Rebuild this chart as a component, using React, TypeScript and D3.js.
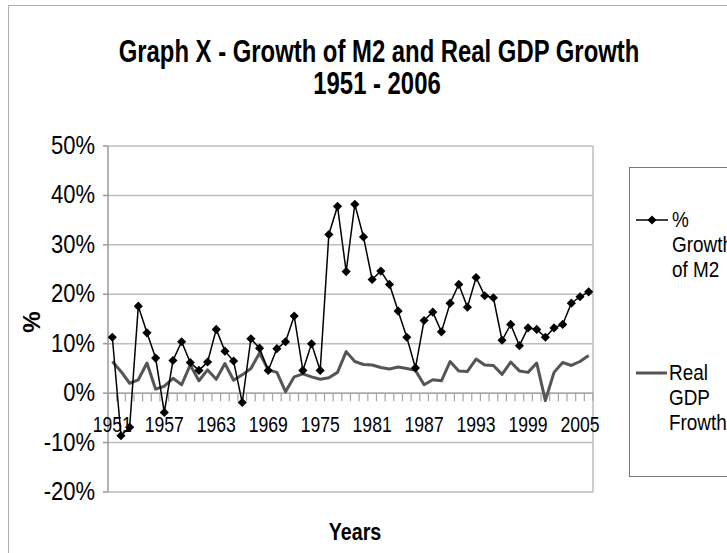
import React from "react";
import * as d3 from "d3";

const years: number[] = [
  1951, 1952, 1953, 1954, 1955, 1956, 1957, 1958, 1959, 1960,
  1961, 1962, 1963, 1964, 1965, 1966, 1967, 1968, 1969, 1970,
  1971, 1972, 1973, 1974, 1975, 1976, 1977, 1978, 1979, 1980,
  1981, 1982, 1983, 1984, 1985, 1986, 1987, 1988, 1989, 1990,
  1991, 1992, 1993, 1994, 1995, 1996, 1997, 1998, 1999, 2000,
  2001, 2002, 2003, 2004, 2005, 2006,
];

const m2Growth: number[] = [
  11.3, -8.6, -6.9, 17.6, 12.2, 7.1, -3.9, 6.6, 10.4, 6.2,
  4.6, 6.3, 12.9, 8.5, 6.5, -1.9, 11.0, 9.1, 4.6, 9.0,
  10.4, 15.6, 4.6, 10.0, 4.6, 32.1, 37.8, 24.6, 38.2, 31.6,
  23.0, 24.7, 22.0, 16.6, 11.3, 5.1, 14.7, 16.4, 12.4, 18.2,
  22.0, 17.4, 23.4, 19.7, 19.3, 10.7, 13.9, 9.6, 13.2, 12.9,
  11.3, 13.2, 13.9, 18.2, 19.5, 20.5,
];

const gdpGrowth: number[] = [
  6.4, 4.4, 2.0, 2.7, 6.1, 0.8, 1.4, 3.0, 1.7, 5.7,
  2.5, 4.7, 2.8, 6.0, 2.6, 3.7, 5.0, 8.1, 4.7, 4.2,
  0.3, 3.3, 3.9, 3.3, 2.8, 3.1, 4.2, 8.4, 6.4, 5.8,
  5.7, 5.2, 4.9, 5.3, 5.0, 4.6, 1.7, 2.7, 2.5, 6.4,
  4.5, 4.4, 6.9, 5.7, 5.6, 3.8, 6.3, 4.5, 4.2, 6.1,
  -1.5, 4.2, 6.2, 5.6, 6.4, 7.6,
];

const yTicks: number[] = [-20, -10, 0, 10, 20, 30, 40, 50];
const xTickLabels: number[] = [1951, 1957, 1963, 1969, 1975, 1981, 1987, 1993, 1999, 2005];

const titleLines: string[] = ["Graph X - Growth of M2 and Real GDP Growth", "1951 - 2006"];
const legendM2: string[] = ["%", "Growth", "of M2"];
const legendGdp: string[] = ["Real", "GDP", "Frowth"];

const FONT = "'Liberation Sans', Arial, sans-serif";

const W = 727;
const H = 553;
const plot = { left: 108, right: 593, top: 146, bottom: 492 };

function T(props: {
  x: number; y: number; sx?: number; size: number; bold?: boolean;
  anchor?: string; rotate?: number; children: React.ReactNode; fill?: string;
}) {
  const { x, y, sx = 1, size, bold, anchor = "start", rotate = 0, children, fill = "#000" } = props;
  return (
    <text
      transform={`translate(${x},${y}) rotate(${rotate}) scale(${sx},1)`}
      fontFamily={FONT}
      fontSize={size}
      fontWeight={bold ? "bold" : "normal"}
      textAnchor={anchor}
      fill={fill}
    >
      {children}
    </text>
  );
}

export default function App() {
  const x = d3.scaleBand<number>().domain(years).range([plot.left, plot.right]).padding(0);
  const bw = x.bandwidth();
  const cx = (yr: number) => (x(yr) as number) + bw / 2;
  const y = d3.scaleLinear().domain([-20, 50]).range([plot.bottom, plot.top]);

  const m2Data = years.map((yr, i) => ({ yr, v: m2Growth[i] }));
  const gdpData = years.map((yr, i) => ({ yr, v: gdpGrowth[i] }));

  const line = d3
    .line<{ yr: number; v: number }>()
    .x((d) => cx(d.yr))
    .y((d) => y(d.v));

  const diamond = d3.symbol().type(d3.symbolSquare).size(42)() as string;

  const y0 = y(0);
  const boundaries = years.map((yr) => x(yr) as number).concat([plot.right]);

  return (
    <svg
      width={W}
      height={H}
      style={{ position: "absolute", left: 0, top: 0, background: "#fff" }}
    >
      <rect x={0} y={0} width={W} height={H} fill="#fff" />
      {/* chart area border */}
      <rect x={8.5} y={5.5} width={W + 20} height={H + 20} fill="none" stroke="#b0b0b0" strokeWidth={1} />

      {/* title */}
      <T x={379} y={62} size={31} sx={0.77} bold anchor="middle">{titleLines[0]}</T>
      <T x={377} y={94} size={31} sx={0.77} bold anchor="middle">{titleLines[1]}</T>

      {/* gridlines */}
      {yTicks.map((t) => (
        <line key={t} x1={plot.left} x2={plot.right} y1={y(t)} y2={y(t)} stroke="#bdbdbd" strokeWidth={1.5} />
      ))}
      {/* plot area right border */}
      <line x1={plot.right} x2={plot.right} y1={plot.top} y2={plot.bottom} stroke="#bdbdbd" strokeWidth={1.5} />

      {/* y axis */}
      <line x1={plot.left} x2={plot.left} y1={plot.top} y2={plot.bottom} stroke="#9a9a9a" strokeWidth={1.5} />
      {yTicks.map((t) => (
        <line key={"yt" + t} x1={plot.left - 5} x2={plot.left} y1={y(t)} y2={y(t)} stroke="#9a9a9a" strokeWidth={1.5} />
      ))}
      {yTicks.map((t) => (
        <T key={"yl" + t} x={95} y={y(t) + 8} size={25} sx={0.88} anchor="end">{`${t}%`}</T>
      ))}

      {/* x axis at 0 */}
      <line x1={plot.left} x2={plot.right} y1={y0} y2={y0} stroke="#a5a5a5" strokeWidth={1.5} />
      {boundaries.map((bx, i) => (
        <line key={"xt" + i} x1={bx} x2={bx} y1={y0} y2={y0 + 8} stroke="#a5a5a5" strokeWidth={1.2} />
      ))}

      {/* GDP line */}
      <path d={line(gdpData) as string} fill="none" stroke="#555555" strokeWidth={3} strokeLinejoin="round" />

      {/* M2 line */}
      <path d={line(m2Data) as string} fill="none" stroke="#000" strokeWidth={1.5} />
      {m2Data.map((d) => (
        <path key={"m" + d.yr} d={diamond} transform={`translate(${cx(d.yr)},${y(d.v)}) rotate(45)`} fill="#000" />
      ))}

      {/* x tick labels */}
      {xTickLabels.map((yr) => (
        <T key={"xl" + yr} x={cx(yr)} y={432} size={22} sx={0.8} anchor="middle">{String(yr)}</T>
      ))}

      {/* axis titles */}
      <T x={355} y={540} size={24} sx={0.82} bold anchor="middle">Years</T>
      <T x={40} y={322} size={24} sx={1} bold anchor="middle" rotate={-90}>%</T>

      {/* legend */}
      <rect x={629.5} y={167.5} width={120} height={309} fill="#fff" stroke="#7a7a7a" strokeWidth={1} />
      <line x1={636} x2={668} y1={220} y2={220} stroke="#000" strokeWidth={1.5} />
      <path d={diamond} transform={`translate(652,220) rotate(45)`} fill="#000" />
      {legendM2.map((s, i) => (
        <T key={"lm" + i} x={672} y={227 + i * 25} size={22} sx={0.86}>{s}</T>
      ))}
      <line x1={636} x2={667} y1={373} y2={373} stroke="#555555" strokeWidth={3} />
      {legendGdp.map((s, i) => (
        <T key={"lg" + i} x={669} y={380 + i * 25} size={22} sx={0.86}>{s}</T>
      ))}
    </svg>
  );
}
